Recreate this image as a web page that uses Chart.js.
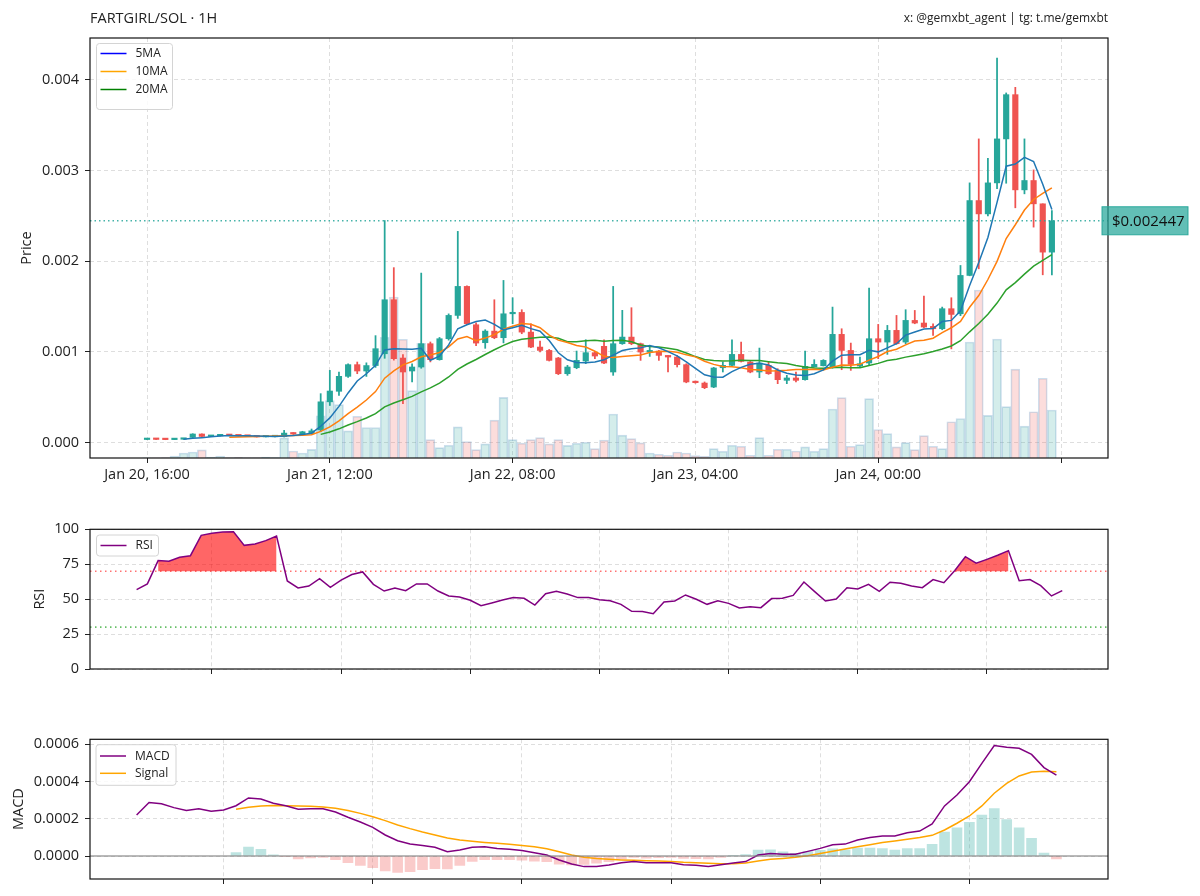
<!DOCTYPE html>
<html><head><meta charset="utf-8">
<script src="https://cdn.jsdelivr.net/npm/chart.js@4.4.1/dist/chart.umd.min.js"></script>
<style>
html,body{margin:0;padding:0;background:#fff;}
#wrap{position:relative;width:1200px;height:896px;overflow:hidden;}
canvas{position:absolute;left:0;}
</style></head><body>
<div id="wrap">
<canvas id="cPrice" width="1200" height="500" style="top:0px"></canvas>
<canvas id="cRsi" width="1200" height="200" style="top:500px"></canvas>
<canvas id="cMacd" width="1200" height="196" style="top:700px"></canvas>
</div>
<script>
// ---------------- DATA ----------------
const pairTitle = 'FARTGIRL/SOL · 1H';
const credit = 'x: @gemxbt_agent | tg: t.me/gemxbt';

// hourly candles, index 0 = Jan 20 16:00
const opens = [
 0.000034,0.000037,0.000035,0.000033,0.000037,0.000058,0.000095,0.000068,0.000075,0.000080,
 0.000078,0.000074,0.000070,0.000063,0.000065,0.000066,0.000105,0.000095,0.000100,0.000140,
 0.000450,0.000566,0.000731,0.000860,0.000790,0.000850,0.000980,0.001576,0.000933,0.000790,
 0.000834,0.001091,0.000915,0.001146,0.001403,0.001723,0.001300,0.001102,0.001230,0.001157,
 0.001421,0.001436,0.001219,0.001054,0.001017,0.000933,0.000760,0.000826,0.000900,0.000992,
 0.001062,0.000779,0.001091,0.001164,0.001091,0.000999,0.001010,0.000962,0.000944,0.000860,
 0.000676,0.000657,0.000613,0.000826,0.000852,0.000973,0.000889,0.000779,0.000852,0.000797,
 0.000687,0.000713,0.000694,0.000834,0.000848,0.000826,0.001194,0.001017,0.000845,0.000878,
 0.001146,0.001109,0.001238,0.001109,0.001348,0.001319,0.001282,0.001256,0.001477,0.001421,
 0.001844,0.002670,0.002523,0.002865,0.003350,0.003838,0.002788,0.002891,0.002634,0.002101];
const highs = [
 0.000038,0.000038,0.000036,0.000038,0.000044,0.000098,0.000097,0.000078,0.000082,0.000081,
 0.000079,0.000075,0.000071,0.000067,0.000069,0.000135,0.000110,0.000125,0.000150,0.000540,
 0.000797,0.000779,0.000870,0.000889,0.000880,0.001180,0.002450,0.001930,0.000970,0.000870,
 0.001870,0.001110,0.001160,0.001420,0.002330,0.001730,0.001320,0.001245,0.001576,0.001789,
 0.001598,0.001466,0.001311,0.001120,0.001028,0.000940,0.000852,0.001010,0.001135,0.001006,
 0.001135,0.001723,0.001459,0.001488,0.001098,0.001073,0.001017,0.000962,0.000962,0.000870,
 0.000680,0.000669,0.000830,0.000889,0.001135,0.001109,0.000896,0.001043,0.000889,0.000815,
 0.000742,0.000779,0.001010,0.000915,0.000915,0.001495,0.001256,0.001098,0.000944,0.001704,
 0.001304,0.001293,0.001403,0.001466,0.001458,0.001616,0.001311,0.001495,0.001598,0.001954,
 0.002865,0.003350,0.003137,0.004242,0.003857,0.003919,0.003350,0.003008,0.002634,0.002560];
const lows = [
 0.000033,0.000034,0.000032,0.000033,0.000036,0.000055,0.000066,0.000066,0.000073,0.000076,
 0.000072,0.000069,0.000061,0.000062,0.000064,0.000062,0.000090,0.000090,0.000095,0.000120,
 0.000410,0.000520,0.000720,0.000760,0.000730,0.000830,0.000930,0.000910,0.000430,0.000669,
 0.000820,0.000890,0.000910,0.001130,0.001370,0.001300,0.001070,0.001040,0.001146,0.001100,
 0.001311,0.001201,0.001047,0.001000,0.000900,0.000750,0.000742,0.000815,0.000871,0.000926,
 0.000870,0.000742,0.001084,0.001080,0.000907,0.000951,0.000907,0.000779,0.000834,0.000660,
 0.000655,0.000595,0.000606,0.000779,0.000840,0.000889,0.000770,0.000716,0.000753,0.000650,
 0.000650,0.000669,0.000690,0.000834,0.000845,0.000820,0.000804,0.000797,0.000826,0.000860,
 0.000926,0.000973,0.001084,0.001091,0.001311,0.001267,0.001183,0.001245,0.001034,0.001400,
 0.001840,0.001917,0.002500,0.002800,0.002861,0.002590,0.002744,0.002377,0.001851,0.001851];
const closes = [
 0.000037,0.000035,0.000033,0.000037,0.000042,0.000095,0.000068,0.000075,0.000080,0.000078,
 0.000074,0.000070,0.000063,0.000065,0.000068,0.000105,0.000095,0.000120,0.000130,0.000450,
 0.000569,0.000731,0.000860,0.000790,0.000850,0.001036,0.001576,0.000926,0.000779,0.000834,
 0.001091,0.000915,0.001146,0.001403,0.001723,0.001311,0.001098,0.001230,0.001157,0.001421,
 0.001436,0.001219,0.001054,0.001017,0.000907,0.000760,0.000834,0.000907,0.000992,0.000955,
 0.000878,0.001091,0.001164,0.001091,0.000999,0.001017,0.000962,0.000944,0.000860,0.000669,
 0.000661,0.000606,0.000823,0.000852,0.000973,0.000896,0.000779,0.000878,0.000760,0.000694,
 0.000713,0.000687,0.000841,0.000863,0.000907,0.001194,0.001017,0.000863,0.000870,0.001146,
 0.001109,0.001238,0.001091,0.001348,0.001319,0.001275,0.001256,0.001477,0.001414,0.001844,
 0.002670,0.002523,0.002865,0.003350,0.003838,0.002788,0.002891,0.002634,0.002101,0.002447];
const volumes = [
 0.2,0.2,0.3,2,5,6,8,1,2,0.5,
 0.7,0.3,0.5,0.8,0.5,20,7,5,8.5,42,
 57,53,27,41.5,30.3,30.3,120,160,118,67,
 114,18.3,10.3,12.7,31,16.3,8.3,14,37.7,60.2,
 18.3,14.8,18.3,20.2,14,18.3,12.5,14.7,15.7,9.3,
 17.7,43.7,22.7,19.3,15,5,3.7,2.7,6,5,
 2.3,1.7,9.3,6.7,12.7,11.7,2.7,20.3,2.7,8.7,
 8.7,7,11,6.7,9.3,48.7,60,11.7,13.3,59,
 28.3,24.3,11,15.3,8.3,22.3,11.7,9.3,36,39.3,
 115.3,167,42.3,118.3,51,88.3,31.7,46,79.3,47.7];
const ma5 = [
 null,null,null,null,0.0000368,0.0000484,0.0000550,0.0000634,0.0000720,0.0000792,
 0.0000750,0.0000754,0.0000730,0.0000700,0.0000680,0.0000742,0.0000792,0.0000906,0.0001036,0.000180,
 0.000273,0.000400,0.000548,0.000680,0.000760,0.000853,0.001022,0.001036,0.001033,0.001030,
 0.001041,0.000909,0.000953,0.001078,0.001256,0.001300,0.001336,0.001353,0.001304,0.001243,
 0.001268,0.001293,0.001257,0.001229,0.001127,0.000991,0.000914,0.000885,0.000880,0.000890,
 0.000913,0.000965,0.001016,0.001036,0.001045,0.001072,0.001047,0.001003,0.000956,0.000890,
 0.000819,0.000748,0.000724,0.000722,0.000783,0.000830,0.000865,0.000876,0.000857,0.000801,
 0.000765,0.000746,0.000739,0.000760,0.000802,0.000898,0.000964,0.000969,0.000970,0.001018,
 0.001001,0.001045,0.001091,0.001186,0.001221,0.001254,0.001258,0.001335,0.001348,0.001453,
 0.001732,0.001986,0.002263,0.002650,0.003049,0.003073,0.003146,0.003100,0.002850,0.002572];
const ma10 = [
 null,null,null,null,null,null,null,null,null,0.0000580,
 0.0000617,0.0000652,0.0000682,0.0000710,0.0000736,0.0000746,0.0000773,0.0000818,0.0000868,0.000124,
 0.000174,0.000240,0.000319,0.000392,0.000470,0.000563,0.000711,0.000792,0.000857,0.000895,
 0.000947,0.000966,0.000994,0.001056,0.001143,0.001170,0.001123,0.001153,0.001191,0.001250,
 0.001284,0.001314,0.001305,0.001267,0.001185,0.001130,0.001104,0.001071,0.001055,0.001008,
 0.000952,0.000940,0.000951,0.000958,0.000967,0.000993,0.001006,0.001009,0.000996,0.000968,
 0.000946,0.000897,0.000863,0.000839,0.000837,0.000825,0.000806,0.000800,0.000790,0.000792,
 0.000797,0.000806,0.000807,0.000808,0.000802,0.000832,0.000855,0.000854,0.000865,0.000910,
 0.000950,0.001005,0.001030,0.001078,0.001120,0.001128,0.001152,0.001213,0.001267,0.001337,
 0.001493,0.001622,0.001799,0.001999,0.002251,0.002403,0.002566,0.002682,0.002750,0.002811];
const ma20 = [
 null,null,null,null,null,null,null,null,null,null,
 null,null,null,null,null,null,null,null,null,0.0000910,
 0.000118,0.000152,0.000194,0.000231,0.000272,0.000319,0.000394,0.000437,0.000472,0.000510,
 0.000560,0.000603,0.000657,0.000724,0.000807,0.000867,0.000917,0.000972,0.001024,0.001072,
 0.001116,0.001140,0.001150,0.001161,0.001164,0.001150,0.001113,0.001112,0.001123,0.001129,
 0.001118,0.001127,0.001128,0.001112,0.001076,0.001061,0.001055,0.001040,0.001025,0.000988,
 0.000949,0.000918,0.000907,0.000899,0.000902,0.000909,0.000906,0.000905,0.000893,0.000880,
 0.000872,0.000851,0.000835,0.000824,0.000819,0.000828,0.000831,0.000827,0.000827,0.000851,
 0.000874,0.000905,0.000919,0.000943,0.000961,0.000980,0.001004,0.001033,0.001066,0.001124,
 0.001222,0.001313,0.001415,0.001539,0.001685,0.001765,0.001859,0.001947,0.002009,0.002074];
const lastPrice = 0.002447;

// RSI(14) from candle index 13 onward
const rsiStart = 13;
const rsi = [
 56.8,60.9,77.6,77.1,80.0,81.1,95.7,97.1,98.1,98.3,
 88.5,89.5,91.9,95.2,63.0,58.0,59.4,64.7,58.5,63.6,
 67.6,69.5,60.6,55.8,58.0,56.1,60.9,60.9,55.8,52.3,
 51.6,49.2,45.3,47.3,49.4,51.1,50.6,45.8,53.9,55.6,
 53.7,51.1,51.1,49.6,48.9,46.3,41.3,41.1,39.6,48.0,
 48.7,53.0,49.9,46.3,48.9,47.0,43.7,44.6,43.9,50.4,
 50.6,52.7,62.3,55.4,48.7,50.1,58.2,57.3,60.6,55.6,
 62.1,61.3,59.4,58.2,64.0,61.8,70.4,80.4,75.7,78.5,
 81.4,84.7,63.2,64.0,59.7,52.3,56.1];
const rsiUpper = 70, rsiLower = 30;

// MACD from candle index 25 onward
const macdStart = 25;
const macd = [
 0.000220,0.000287,0.000281,0.000260,0.000245,0.000254,0.000240,0.000247,0.000270,0.000312,
 0.000306,0.000283,0.000270,0.000251,0.000254,0.000254,0.000236,0.000208,0.000183,0.000154,
 0.000113,0.000082,0.000064,0.000057,0.000047,0.000023,0.000032,0.000047,0.000050,0.000041,
 0.000036,0.000029,0.000018,0.000005,-0.000021,-0.000043,-0.000057,-0.000056,-0.000048,-0.000036,
 -0.000030,-0.000036,-0.000036,-0.000036,-0.000047,-0.000050,-0.000056,-0.000047,-0.000038,-0.000030,
 0.000005,0.000014,0.000009,0.000009,0.000025,0.000041,0.000061,0.000064,0.000086,0.000100,
 0.000107,0.000107,0.000125,0.000134,0.000172,0.000269,0.000328,0.000399,0.000498,0.000593,
 0.000584,0.000579,0.000546,0.000475,0.000435];
const signal = [
 null,null,null,null,null,null,null,null,0.000251,0.000262,
 0.000269,0.000272,0.000270,0.000269,0.000267,0.000263,0.000256,0.000244,0.000229,0.000211,
 0.000190,0.000167,0.000147,0.000129,0.000113,0.000097,0.000086,0.000079,0.000073,0.000068,
 0.000063,0.000057,0.000050,0.000039,0.000023,0.000005,-0.000007,-0.000014,-0.000018,-0.000021,
 -0.000023,-0.000025,-0.000027,-0.000030,-0.000034,-0.000036,-0.000039,-0.000041,-0.000041,-0.000038,
 -0.000027,-0.000018,-0.000013,-0.000007,0.000002,0.000013,0.000025,0.000038,0.000050,0.000061,
 0.000072,0.000081,0.000090,0.000099,0.000111,0.000140,0.000176,0.000215,0.000269,0.000337,
 0.000390,0.000430,0.000451,0.000455,0.000453];
const histogram = [
 null,null,null,null,null,null,null,null,0.000019,0.000048,
 0.000036,0.000006,-0.000003,-0.000016,-0.000010,-0.000008,-0.000020,-0.000036,-0.000050,-0.000062,
 -0.000080,-0.000088,-0.000084,-0.000074,-0.000068,-0.000070,-0.000050,-0.000029,-0.000020,-0.000020,
 -0.000020,-0.000023,-0.000028,-0.000031,-0.000044,-0.000048,-0.000045,-0.000038,-0.000030,-0.000015,
 -0.000008,-0.000011,-0.000009,-0.000007,-0.000013,-0.000014,-0.000016,-0.000007,0.000002,0.000008,
 0.000032,0.000033,0.000022,0.000015,0.000024,0.000030,0.000039,0.000033,0.000042,0.000042,
 0.000040,0.000032,0.000040,0.000040,0.000063,0.000128,0.000151,0.000181,0.000220,0.000255,
 0.000196,0.000151,0.000095,0.000016,-0.000015];

// ticks
const priceTicks = [0, 0.001, 0.002, 0.003, 0.004];
const rsiTicks = [0, 25, 50, 75, 100];
const macdTicks = [0, 0.0002, 0.0004, 0.0006];
const timeTickIdx = [0, 20, 40, 60, 80, 100];
const timeTickLabels = ['Jan 20, 16:00', 'Jan 21, 12:00', 'Jan 22, 08:00', 'Jan 23, 04:00', 'Jan 24, 00:00', ''];
const rsiTickIdx = [20, 32, 44, 56, 68, 80, 92];
const macdTickIdx = [32, 44, 56, 68, 80, 92];

// ---------------- STYLE ----------------
const FAM = "'Open Sans', 'Noto Sans', sans-serif";
const TICK_FS = 14.5;
const TEAL = '#26a69a', RED = '#ef5350';
const GRID = 'rgba(0,0,0,0.13)';
Chart.defaults.font.family = FAM;
Chart.defaults.color = '#222';
Chart.defaults.animation = false;

function xAxis(min, max, tickIdx, labelFn, h) {
  return {
    type: 'linear', min, max, offset: false,
    afterBuildTicks: s => { s.ticks = tickIdx.map(v => ({value: v})); },
    afterFit: s => { s.height = h; },
    ticks: {autoSkip: false, maxRotation: 0, minRotation: 0, padding: 3, font: {size: TICK_FS}, color: '#222', callback: labelFn},
    grid: {color: GRID, lineWidth: 1, tickColor: '#222', tickLength: 5, offset: false},
    border: {display: false, dash: [4, 3]}
  };
}
function yAxis(min, max, ticks, fmt) {
  return {
    type: 'linear', position: 'left', min, max,
    afterBuildTicks: s => { s.ticks = ticks.map(v => ({value: v})); },
    afterFit: s => { s.width = 90; },
    ticks: {padding: 6, font: {size: TICK_FS}, color: '#222', callback: fmt},
    grid: {color: GRID, lineWidth: 1, tickColor: '#222', tickLength: 5},
    border: {display: false, dash: [4, 3]}
  };
}
function drawFrame(chart) {
  const {ctx, chartArea: a} = chart;
  ctx.save(); ctx.strokeStyle = '#111'; ctx.lineWidth = 1.2;
  ctx.strokeRect(a.left, a.top, a.right - a.left, a.bottom - a.top);
  ctx.restore();
}
function drawYTitle(chart, text, x) {
  const {ctx, chartArea: a} = chart;
  ctx.save(); ctx.translate(x, (a.top + a.bottom) / 2); ctx.rotate(-Math.PI / 2);
  ctx.font = '14.5px ' + FAM; ctx.fillStyle = '#222'; ctx.textAlign = 'center'; ctx.textBaseline = 'middle';
  ctx.fillText(text, 0, 0); ctx.restore();
}
function drawLegend(chart, box, items) {
  const {ctx} = chart;
  ctx.save();
  ctx.beginPath(); ctx.roundRect(box.x, box.y, box.w, box.h, 3);
  ctx.fillStyle = 'rgba(255,255,255,0.85)'; ctx.fill();
  ctx.strokeStyle = '#d4d4d4'; ctx.lineWidth = 1; ctx.stroke();
  ctx.font = '12px ' + FAM; ctx.textBaseline = 'middle'; ctx.textAlign = 'left';
  items.forEach((it, i) => {
    const y = box.y + box.first + i * box.step;
    ctx.strokeStyle = it.color; ctx.lineWidth = 1.5;
    ctx.beginPath(); ctx.moveTo(box.x + 4, y); ctx.lineTo(box.x + 30, y); ctx.stroke();
    ctx.fillStyle = '#222'; ctx.fillText(it.label, box.x + 39, y + 0.5);
  });
  ctx.restore();
}
function hDotted(chart, yScaleId, value, color, dash, lw) {
  const {ctx, chartArea: a} = chart;
  const y = chart.scales[yScaleId].getPixelForValue(value);
  ctx.save(); ctx.strokeStyle = color; ctx.lineWidth = lw; ctx.setLineDash(dash);
  ctx.beginPath(); ctx.moveTo(a.left, y); ctx.lineTo(a.right, y); ctx.stroke(); ctx.restore();
  return y;
}

// ---------------- PRICE CHART ----------------
const idx = closes.map((_, i) => i);
const isUp = idx.map(i => closes[i] >= opens[i]);
const maxVol = Math.max(...volumes);

new Chart(document.getElementById('cPrice'), {
  type: 'bar',
  data: {datasets: [
    {type: 'line', label: '5MA', data: idx.map(i => ({x: i, y: ma5[i]})), borderColor: '#1f77b4', borderWidth: 1.5, pointRadius: 0, tension: 0, order: 1},
    {type: 'line', label: '10MA', data: idx.map(i => ({x: i, y: ma10[i]})), borderColor: '#ff7f0e', borderWidth: 1.5, pointRadius: 0, tension: 0, order: 2},
    {type: 'line', label: '20MA', data: idx.map(i => ({x: i, y: ma20[i]})), borderColor: '#2ca02c', borderWidth: 1.5, pointRadius: 0, tension: 0, order: 3},
    {label: 'body', data: idx.map(i => ({x: i, y: [opens[i], closes[i]]})), backgroundColor: idx.map(i => isUp[i] ? TEAL : RED),
     barThickness: 5.5, minBarLength: 1.5, grouped: false, borderWidth: 0, order: 4},
    {label: 'wick', data: idx.map(i => ({x: i, y: [lows[i], highs[i]]})), backgroundColor: idx.map(i => isUp[i] ? TEAL : RED),
     barThickness: 1.1, grouped: false, borderWidth: 0, order: 5},
    {label: 'volume', yAxisID: 'yv', data: idx.map(i => ({x: i, y: volumes[i]})),
     backgroundColor: idx.map(i => isUp[i] ? 'rgba(38,166,154,0.2)' : 'rgba(239,83,80,0.2)'),
     borderColor: 'rgba(80,140,190,0.28)', borderWidth: 1, borderSkipped: 'bottom', barThickness: 9, grouped: false, order: 6}
  ]},
  options: {
    responsive: false, devicePixelRatio: 1, animation: false,
    layout: {padding: {top: 38, left: 0, right: 92, bottom: 0}},
    plugins: {legend: {display: false}, tooltip: {enabled: false}},
    scales: {
      x: xAxis(-6.24, 105.14, timeTickIdx, v => timeTickLabels[timeTickIdx.indexOf(v)] ?? '', 42),
      y: yAxis(-0.0001697, 0.004463, priceTicks, v => v.toFixed(3)),
      yv: {display: false, min: 0, max: maxVol * 2.5}
    }
  },
  plugins: [{
    id: 'priceDecor',
    afterDatasetsDraw(chart) {
      hDotted(chart, 'y', lastPrice, 'rgba(38,166,154,0.85)', [1.5, 3], 1.6);
    },
    afterDraw(chart) {
      const {ctx, chartArea: a} = chart;
      drawFrame(chart);
      // last price tag
      const y = chart.scales.y.getPixelForValue(lastPrice);
      ctx.save();
      ctx.fillStyle = 'rgba(38,166,154,0.72)'; ctx.strokeStyle = 'rgba(38,166,154,0.95)'; ctx.lineWidth = 1;
      ctx.fillRect(a.right - 6, y - 14, 86, 28); ctx.strokeRect(a.right - 6, y - 14, 86, 28);
      ctx.fillStyle = '#111'; ctx.font = '15px ' + FAM; ctx.textBaseline = 'middle'; ctx.textAlign = 'left';
      ctx.fillText('$' + lastPrice.toFixed(6), a.right + 4, y + 1);
      // titles
      ctx.font = '14.5px ' + FAM; ctx.textBaseline = 'alphabetic'; ctx.fillStyle = '#222';
      ctx.fillText(pairTitle, a.left, 23);
      ctx.font = '12px ' + FAM; ctx.textAlign = 'right';
      ctx.fillText(credit, a.right, 22);
      ctx.restore();
      drawYTitle(chart, 'Price', 27);
      drawLegend(chart, {x: 96.5, y: 43.5, w: 76, h: 66, first: 10, step: 18},
        [{label: '5MA', color: '#0000ff'}, {label: '10MA', color: '#ffa500'}, {label: '20MA', color: '#008000'}]);
    }
  }]
});

// ---------------- RSI CHART ----------------
const rsiData = rsi.map((v, k) => ({x: rsiStart + k, y: v}));
const rsiHot = rsi.map((v, k) => ({x: rsiStart + k, y: v > rsiUpper ? v : null}));
new Chart(document.getElementById('cRsi'), {
  type: 'line',
  data: {datasets: [
    {label: 'RSI', data: rsiData, borderColor: '#800080', borderWidth: 1.5, pointRadius: 0, tension: 0, order: 1},
    {label: 'overbought', data: rsiHot, borderWidth: 0, borderColor: 'rgba(0,0,0,0)', backgroundColor: 'rgba(255,0,0,0.6)',
     fill: {value: rsiUpper}, pointRadius: 0, tension: 0, spanGaps: false, order: 2}
  ]},
  options: {
    responsive: false, devicePixelRatio: 1, animation: false,
    layout: {padding: {top: 29.3, left: 0, right: 92, bottom: 0}},
    plugins: {legend: {display: false}, tooltip: {enabled: false}},
    scales: {
      x: xAxis(8.67, 103.25, rsiTickIdx, () => '', 31),
      y: yAxis(0, 100, rsiTicks, v => String(v))
    }
  },
  plugins: [{
    id: 'rsiDecor',
    beforeDatasetsDraw(chart) {
      hDotted(chart, 'y', rsiUpper, 'rgba(255,0,0,0.55)', [1.5, 3.5], 1.6);
      hDotted(chart, 'y', rsiLower, 'rgba(0,150,0,0.6)', [1.5, 3.5], 1.6);
    },
    afterDraw(chart) {
      drawFrame(chart);
      drawYTitle(chart, 'RSI', 40);
      drawLegend(chart, {x: 96.5, y: 35, w: 62, h: 21, first: 10.5, step: 18}, [{label: 'RSI', color: '#800080'}]);
    }
  }]
});

// ---------------- MACD CHART ----------------
const macdData = macd.map((v, k) => ({x: macdStart + k, y: v}));
const sigData = signal.map((v, k) => ({x: macdStart + k, y: v}));
const histData = histogram.map((v, k) => ({x: macdStart + k, y: v}));
new Chart(document.getElementById('cMacd'), {
  type: 'bar',
  data: {datasets: [
    {type: 'line', label: 'MACD', data: macdData, borderColor: '#800080', borderWidth: 1.5, pointRadius: 0, tension: 0, order: 1},
    {type: 'line', label: 'Signal', data: sigData, borderColor: '#ffa500', borderWidth: 1.5, pointRadius: 0, tension: 0, order: 2},
    {label: 'Histogram', data: histData, backgroundColor: histogram.map(v => (v ?? 0) >= 0 ? 'rgba(38,166,154,0.3)' : 'rgba(239,83,80,0.3)'),
     barThickness: 10, grouped: false, borderWidth: 0, order: 3}
  ]},
  options: {
    responsive: false, devicePixelRatio: 1, animation: false,
    layout: {padding: {top: 39.3, left: 0, right: 92, bottom: 0}},
    plugins: {legend: {display: false}, tooltip: {enabled: false}},
    scales: {
      x: xAxis(21.25, 103.15, macdTickIdx, () => '', 17),
      y: yAxis(-0.0001235, 0.000627, macdTicks, v => v.toFixed(4))
    }
  },
  plugins: [{
    id: 'macdDecor',
    afterDatasetsDraw(chart) {
      hDotted(chart, 'y', 0, 'rgba(128,128,128,0.55)', [], 2);
    },
    afterDraw(chart) {
      drawFrame(chart);
      drawYTitle(chart, 'MACD', 19);
      drawLegend(chart, {x: 96, y: 44.7, w: 80, h: 40.6, first: 11.3, step: 17.3},
        [{label: 'MACD', color: '#800080'}, {label: 'Signal', color: '#ffa500'}]);
    }
  }]
});
</script>
</body></html>
